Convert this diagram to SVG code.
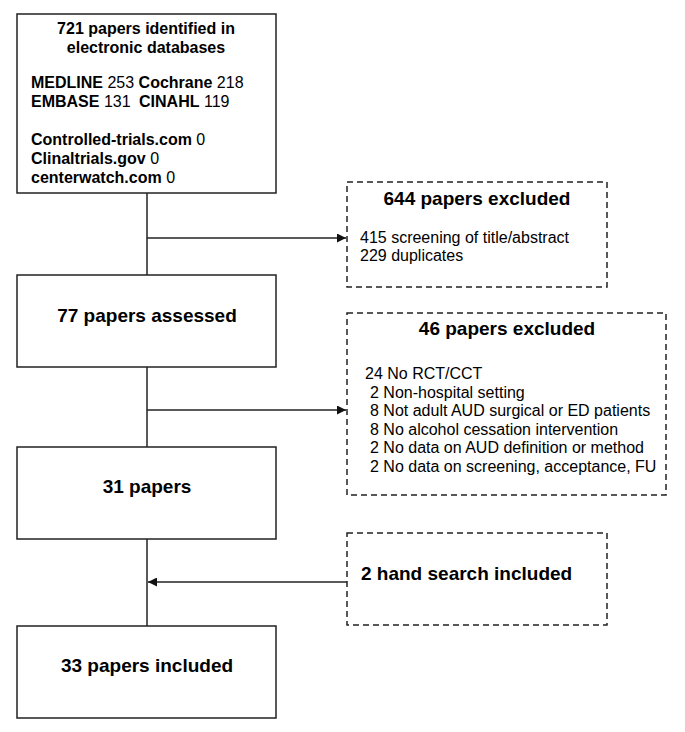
<svg xmlns="http://www.w3.org/2000/svg" width="685" height="732" viewBox="0 0 685 732">
<style>
text{font-family:"Liberation Sans",Arial,sans-serif;fill:#000;}
.b{font-weight:bold;}
.solid{fill:#fff;stroke:#222;stroke-width:1.5;}
.dash{fill:#fff;stroke:#222;stroke-width:1.5;stroke-dasharray:6,4;}
.conn{stroke:#222;stroke-width:1.5;fill:none;}
.t16{font-size:16px;}
.t19{font-size:19px;}
</style>
<defs>
<marker id="ah" viewBox="0 0 10 10" refX="10" refY="5" markerWidth="10" markerHeight="9" markerUnits="userSpaceOnUse" orient="auto">
<path d="M0,0 L10,5 L0,10 z" fill="#111"/>
</marker>
</defs>
<rect width="685" height="732" fill="#fff"/>
<g id="connectors">
<line class="conn" x1="147" y1="193" x2="147" y2="626"/>
<line class="conn" x1="147" y1="238" x2="346" y2="238" marker-end="url(#ah)"/>
<line class="conn" x1="147" y1="410" x2="346" y2="410" marker-end="url(#ah)"/>
<line class="conn" x1="347" y1="582" x2="148" y2="582" marker-end="url(#ah)"/>
</g>
<g id="n1">
<rect class="solid" x="17" y="14" width="259" height="179"/>
<text class="b t16" x="146" y="34" text-anchor="middle">721 papers identified in</text>
<text class="b t16" x="146" y="53" text-anchor="middle">electronic databases</text>
<text class="t16" x="31" y="88"><tspan class="b">MEDLINE</tspan> 253 <tspan class="b">Cochrane</tspan> 218</text>
<text class="t16" x="31" y="107"><tspan class="b">EMBASE</tspan> 131 <tspan class="b" dx="4">CINAHL</tspan> 119</text>
<text class="t16" x="31" y="145"><tspan class="b">Controlled-trials.com</tspan> 0</text>
<text class="t16" x="31" y="164"><tspan class="b">Clinaltrials.gov</tspan> 0</text>
<text class="t16" x="31" y="183"><tspan class="b">centerwatch.com</tspan> 0</text>
</g>
<g id="n2">
<rect class="dash" x="347" y="182" width="260" height="105"/>
<text class="b t19" x="477" y="205" text-anchor="middle">644 papers excluded</text>
<text class="t16" x="360" y="243">415 screening of title/abstract</text>
<text class="t16" x="360" y="261">229 duplicates</text>
</g>
<g id="n3">
<rect class="solid" x="17" y="275" width="259" height="92"/>
<text class="b t19" x="147" y="322" text-anchor="middle">77 papers assessed</text>
</g>
<g id="n4">
<rect class="dash" x="347" y="313" width="319" height="182"/>
<text class="b t19" x="507" y="335" text-anchor="middle">46 papers excluded</text>
<text class="t16" x="365" y="379">24 No RCT/CCT</text>
<text class="t16" x="370" y="397.5">2 Non-hospital setting</text>
<text class="t16" x="370" y="416">8 Not adult AUD surgical or ED patients</text>
<text class="t16" x="370" y="434.5">8 No alcohol cessation intervention</text>
<text class="t16" x="370" y="453">2 No data on AUD definition or method</text>
<text class="t16" x="370" y="471.5">2 No data on screening, acceptance, FU</text>
</g>
<g id="n5">
<rect class="solid" x="17" y="447" width="259" height="92"/>
<text class="b t19" x="147" y="493" text-anchor="middle">31 papers</text>
</g>
<g id="n6">
<rect class="dash" x="347" y="533" width="260" height="92"/>
<text class="b t19" x="361" y="580">2 hand search included</text>
</g>
<g id="n7">
<rect class="solid" x="17" y="626" width="259" height="92"/>
<text class="b t19" x="147" y="672" text-anchor="middle">33 papers included</text>
</g>
</svg>
